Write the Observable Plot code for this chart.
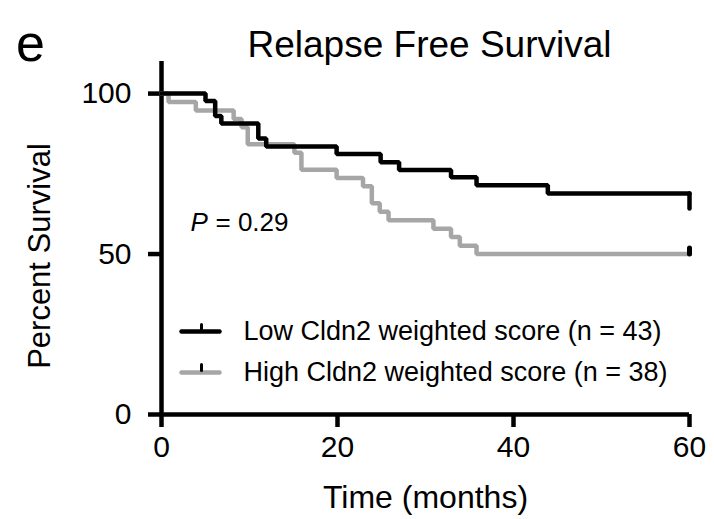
<!DOCTYPE html>
<html>
<head>
<meta charset="utf-8">
<script src="https://cdn.jsdelivr.net/npm/d3@7"></script>
<script src="https://cdn.jsdelivr.net/npm/@observablehq/plot@0.6"></script>
<style>
  html, body { margin: 0; padding: 0; background: #fff; }
  #chart { position: relative; width: 714px; height: 519px; }
</style>
</head>
<body>
<div id="chart"></div>
<script>
// ---- data ----
const panelLetter = "e";
const titleText = "Relapse Free Survival";
const xLabel = "Time (months)";
const yLabel = "Percent Survival";
const pItalic = "P";
const pRest = "= 0.29";
const xTicks = [0, 20, 40, 60];
const yTicks = [0, 50, 100];
const seriesNames = ["Low Cldn2 weighted score (n = 43)", "High Cldn2 weighted score (n = 38)"];

const lowTimes = [0, 5.0, 6.1, 6.8, 11.0, 11.9, 19.9, 24.9, 27.0, 32.9, 35.8, 43.9, 60];
const lowSurv  = [100, 97.7, 93.0, 90.7, 86.0, 83.5, 81.2, 78.6, 76.2, 73.9, 71.4, 68.9, 68.9];

const highTimes = [0, 0.8, 3.9, 8.2, 9.1, 9.8, 15.1, 15.9, 19.9, 22.9, 23.9, 24.8, 25.8, 30.9, 32.9, 33.9, 35.8, 60];
const highSurv  = [100, 97.4, 94.7, 92.1, 89.5, 84.2, 81.6, 76.3, 73.7, 71.1, 65.8, 63.2, 60.5, 57.9, 55.3, 52.6, 50.0, 50.0];

// censored observations (at last follow-up)
const lowCensorT = [60], lowCensorS = [68.9];
const highCensorT = [60], highCensorS = [50.0];

// ---- build tables ----
const low = lowTimes.map((t, i) => ({t, s: lowSurv[i]}));
const high = highTimes.map((t, i) => ({t, s: highSurv[i]}));
const lowC = lowCensorT.map((t, i) => ({t, s: lowCensorS[i]}));
const highC = highCensorT.map((t, i) => ({t, s: highCensorS[i]}));

const GREY = "#a6a6a6";
const FONT = "'Liberation Sans', Arial, Helvetica, sans-serif";
const LW = 4.5;
const lineShape = {draw(context, l) { context.moveTo(0, 0); context.lineTo(0, -l); }};

const plot = Plot.plot({
  width: 714,
  height: 519,
  marginLeft: 161,
  marginRight: 25,
  marginTop: 61,
  marginBottom: 105,
  style: {fontFamily: FONT, fontSize: "29px", color: "#000", background: "#fff", overflow: "visible"},
  x: {domain: [0, 60]},
  y: {domain: [0, 110]},
  marks: [
    Plot.axisX({ticks: xTicks, tickSize: 13, tickPadding: 8, strokeWidth: LW, fontSize: 30, label: null}),
    Plot.axisY({ticks: yTicks, tickSize: 13, tickPadding: 17, strokeWidth: LW, fontSize: 30, label: null}),
    Plot.ruleX([0], {y1: 0, y2: 110, strokeWidth: LW, stroke: "#000"}),
    Plot.ruleY([0], {strokeWidth: LW, stroke: "#000"}),
    Plot.line(high, {x: "t", y: "s", curve: "step-after", stroke: GREY, strokeWidth: LW, strokeLinejoin: "miter"}),
    Plot.line(low, {x: "t", y: "s", curve: "step-after", stroke: "#000", strokeWidth: LW, strokeLinejoin: "miter"}),
    Plot.vector(lowC, {x: "t", y: "s", length: 15, rotate: 180, anchor: "start", shape: lineShape, stroke: "#000", strokeWidth: LW, strokeLinecap: "round"}),
    Plot.vector(highC, {x: "t", y: "s", length: 6, rotate: 0, anchor: "start", shape: lineShape, stroke: "#000", strokeWidth: 5}),
    // titles & labels
    Plot.text([panelLetter], {frameAnchor: "top-left", dx: -131, dy: -17, fontSize: 52, textAnchor: "middle", lineAnchor: "middle"}),
    Plot.text([titleText], {frameAnchor: "top", dx: 4, dy: -16, fontSize: 37, lineAnchor: "middle"}),
    Plot.text([xLabel], {frameAnchor: "bottom", dy: 83, fontSize: 32, lineAnchor: "middle"}),
    Plot.text([yLabel], {frameAnchor: "left", dx: -121, dy: 18, rotate: -90, fontSize: 31, textAnchor: "middle", lineAnchor: "middle"}),
    Plot.text([pItalic], {frameAnchor: "left", dx: 29, dy: -15, fontSize: 26, fontStyle: "italic", textAnchor: "start", lineAnchor: "middle"}),
    Plot.text([pRest], {frameAnchor: "left", dx: 54, dy: -15, fontSize: 26, textAnchor: "start", lineAnchor: "middle"}),
    // legend
    Plot.vector([0], {frameAnchor: "top-left", dx: 20, dy: 270, length: 38, rotate: 90, anchor: "start", shape: lineShape, stroke: "#000", strokeWidth: LW}),
    Plot.vector([0], {frameAnchor: "top-left", dx: 40, dy: 270, length: 7, rotate: 0, anchor: "start", shape: lineShape, stroke: "#000", strokeWidth: 3}),
    Plot.vector([0], {frameAnchor: "top-left", dx: 20, dy: 311, length: 38, rotate: 90, anchor: "start", shape: lineShape, stroke: GREY, strokeWidth: LW}),
    Plot.vector([0], {frameAnchor: "top-left", dx: 40, dy: 309, length: 6, rotate: 0, anchor: "start", shape: lineShape, stroke: "#000", strokeWidth: 3}),
    Plot.text([seriesNames[0]], {frameAnchor: "top-left", dx: 82, dy: 270, fontSize: 27, textAnchor: "start", lineAnchor: "middle"}),
    Plot.text([seriesNames[1]], {frameAnchor: "top-left", dx: 82, dy: 311, fontSize: 27, textAnchor: "start", lineAnchor: "middle"})
  ]
});
document.getElementById("chart").appendChild(plot);
</script>
</body>
</html>
